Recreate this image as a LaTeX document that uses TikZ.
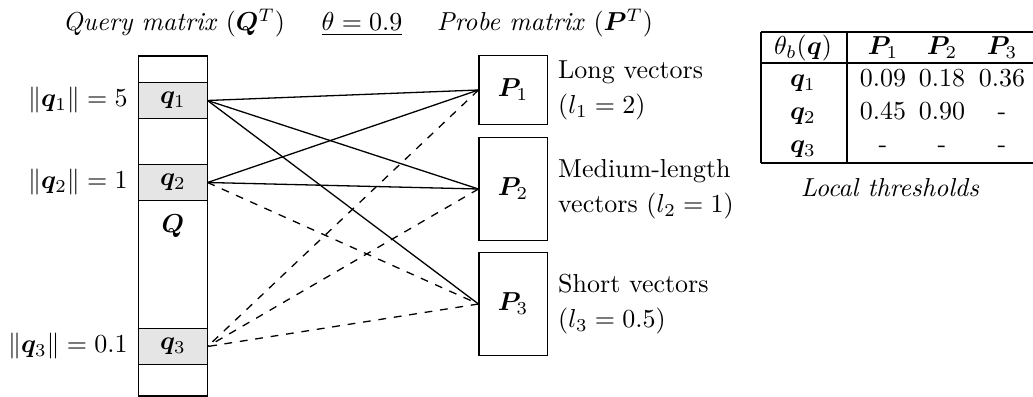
\documentclass[tikz,border=0pt]{standalone}
\usepackage{amsmath,bm}
\begin{document}
\begin{tikzpicture}[x=0.385pt,y=-0.385pt,
  cell/.style={draw, fill=black!10, minimum width=26.2pt, minimum height=13.5pt, inner sep=0pt},
  pbox/.style={draw, minimum width=26.2pt, inner sep=0pt},
  txt/.style={inner sep=0pt},
  conn/.style={line width=0.5pt},
  dconn/.style={line width=0.5pt, dashed}]
\useasboundingbox (0,0) rectangle (1033,397);
% titles
\node[txt, anchor=base] (tq) at (174,31) {\textit{Query matrix} $(\bm{Q}^T)$};
\node[txt, anchor=base] (tt) at (362,31) {$\underline{\theta = 0.9}$};
\node[txt, anchor=base] (tp) at (545,31) {\textit{Probe matrix} $(\bm{P}^T)$};
% query column
\node[draw, minimum width=26.2pt, minimum height=130.9pt, inner sep=0pt] (Qcol) at (173,226) {};
\node[cell] (q1) at (173,100.5) {$\bm{q}_1$};
\node[cell] (q2) at (173,182.5) {$\bm{q}_2$};
\node[cell] (q3) at (173,346.5) {$\bm{q}_3$};
\node[txt] (Ql) at (173,226) {$\bm{Q}$};
\node[txt, anchor=east] (n1) at ([xshift=-4pt]q1.west) {$\|\bm{q}_1\| = 5$};
\node[txt, anchor=east] (n2) at ([xshift=-4pt]q2.west) {$\|\bm{q}_2\| = 1$};
\node[txt, anchor=east] (n3) at ([xshift=-4pt]q3.west) {$\|\bm{q}_3\| = 0.1$};
% probe boxes
\node[pbox, minimum height=26.2pt] (P1) at (513,90) {$\bm{P}_1$};
\node[pbox, minimum height=39.3pt] (P2) at (513,189) {$\bm{P}_2$};
\node[pbox, minimum height=39.3pt] (P3) at (513,304) {$\bm{P}_3$};
\node[txt, anchor=west, align=left] (L1) at ([xshift=3.9pt]P1.east) {Long vectors\\[1.5pt]$(l_1 = 2)$};
\node[txt, anchor=west, align=left] (L2) at ([xshift=3.9pt]P2.east) {Medium-length\\[1.5pt]vectors $(l_2 = 1)$};
\node[txt, anchor=west, align=left] (L3) at ([xshift=3.9pt]P3.east) {Short vectors\\[1.5pt]$(l_3 = 0.5)$};
% connectors
\draw[conn] (q1.east) -- (P1.west);
\draw[conn] (q1.east) -- (P2.west);
\draw[conn] (q1.east) -- (P3.west);
\draw[conn] (q2.east) -- (P1.west);
\draw[conn] (q2.east) -- (P2.west);
\draw[dconn] (q2.east) -- (P3.west);
\draw[dconn] (P1.west) -- (q3.east);
\draw[dconn] (P2.west) -- (q3.east);
\draw[dconn] (P3.west) -- (q3.east);
% table
\draw[line width=0.5pt] (761,32) -- (1040,32);
\draw[line width=0.5pt] (761,63) -- (1040,63);
\draw[line width=0.5pt] (761,163) -- (1040,163);
\draw[line width=0.5pt] (761,32) -- (761,163);
\draw[line width=0.5pt] (847,32) -- (847,163);
\node[txt, anchor=base] (h0) at (803,55) {$\theta_b(\bm{q})$};
\node[txt, anchor=base] (h1) at (883,55) {$\bm{P}_1$};
\node[txt, anchor=base] (h2) at (942,55) {$\bm{P}_2$};
\node[txt, anchor=base] (h3) at (1002,55) {$\bm{P}_3$};
\node[txt, anchor=base] (r1) at (803,87) {$\bm{q}_1$};
\node[txt, anchor=base] (r2) at (803,120) {$\bm{q}_2$};
\node[txt, anchor=base] (r3) at (803,153) {$\bm{q}_3$};
\node[txt, anchor=base] (c11) at (883,87) {0.09};
\node[txt, anchor=base] (c12) at (942,87) {0.18};
\node[txt, anchor=base] (c13) at (1002,87) {0.36};
\node[txt, anchor=base] (c21) at (883,120) {0.45};
\node[txt, anchor=base] (c22) at (942,120) {0.90};
\node[txt, anchor=base] (c23) at (1002,120) {-};
\node[txt, anchor=base] (c31) at (883,153) {-};
\node[txt, anchor=base] (c32) at (942,153) {-};
\node[txt, anchor=base] (c33) at (1002,153) {-};
\node[txt] (lt) at (890,188) {\textit{Local thresholds}};
\end{tikzpicture}
\end{document}
